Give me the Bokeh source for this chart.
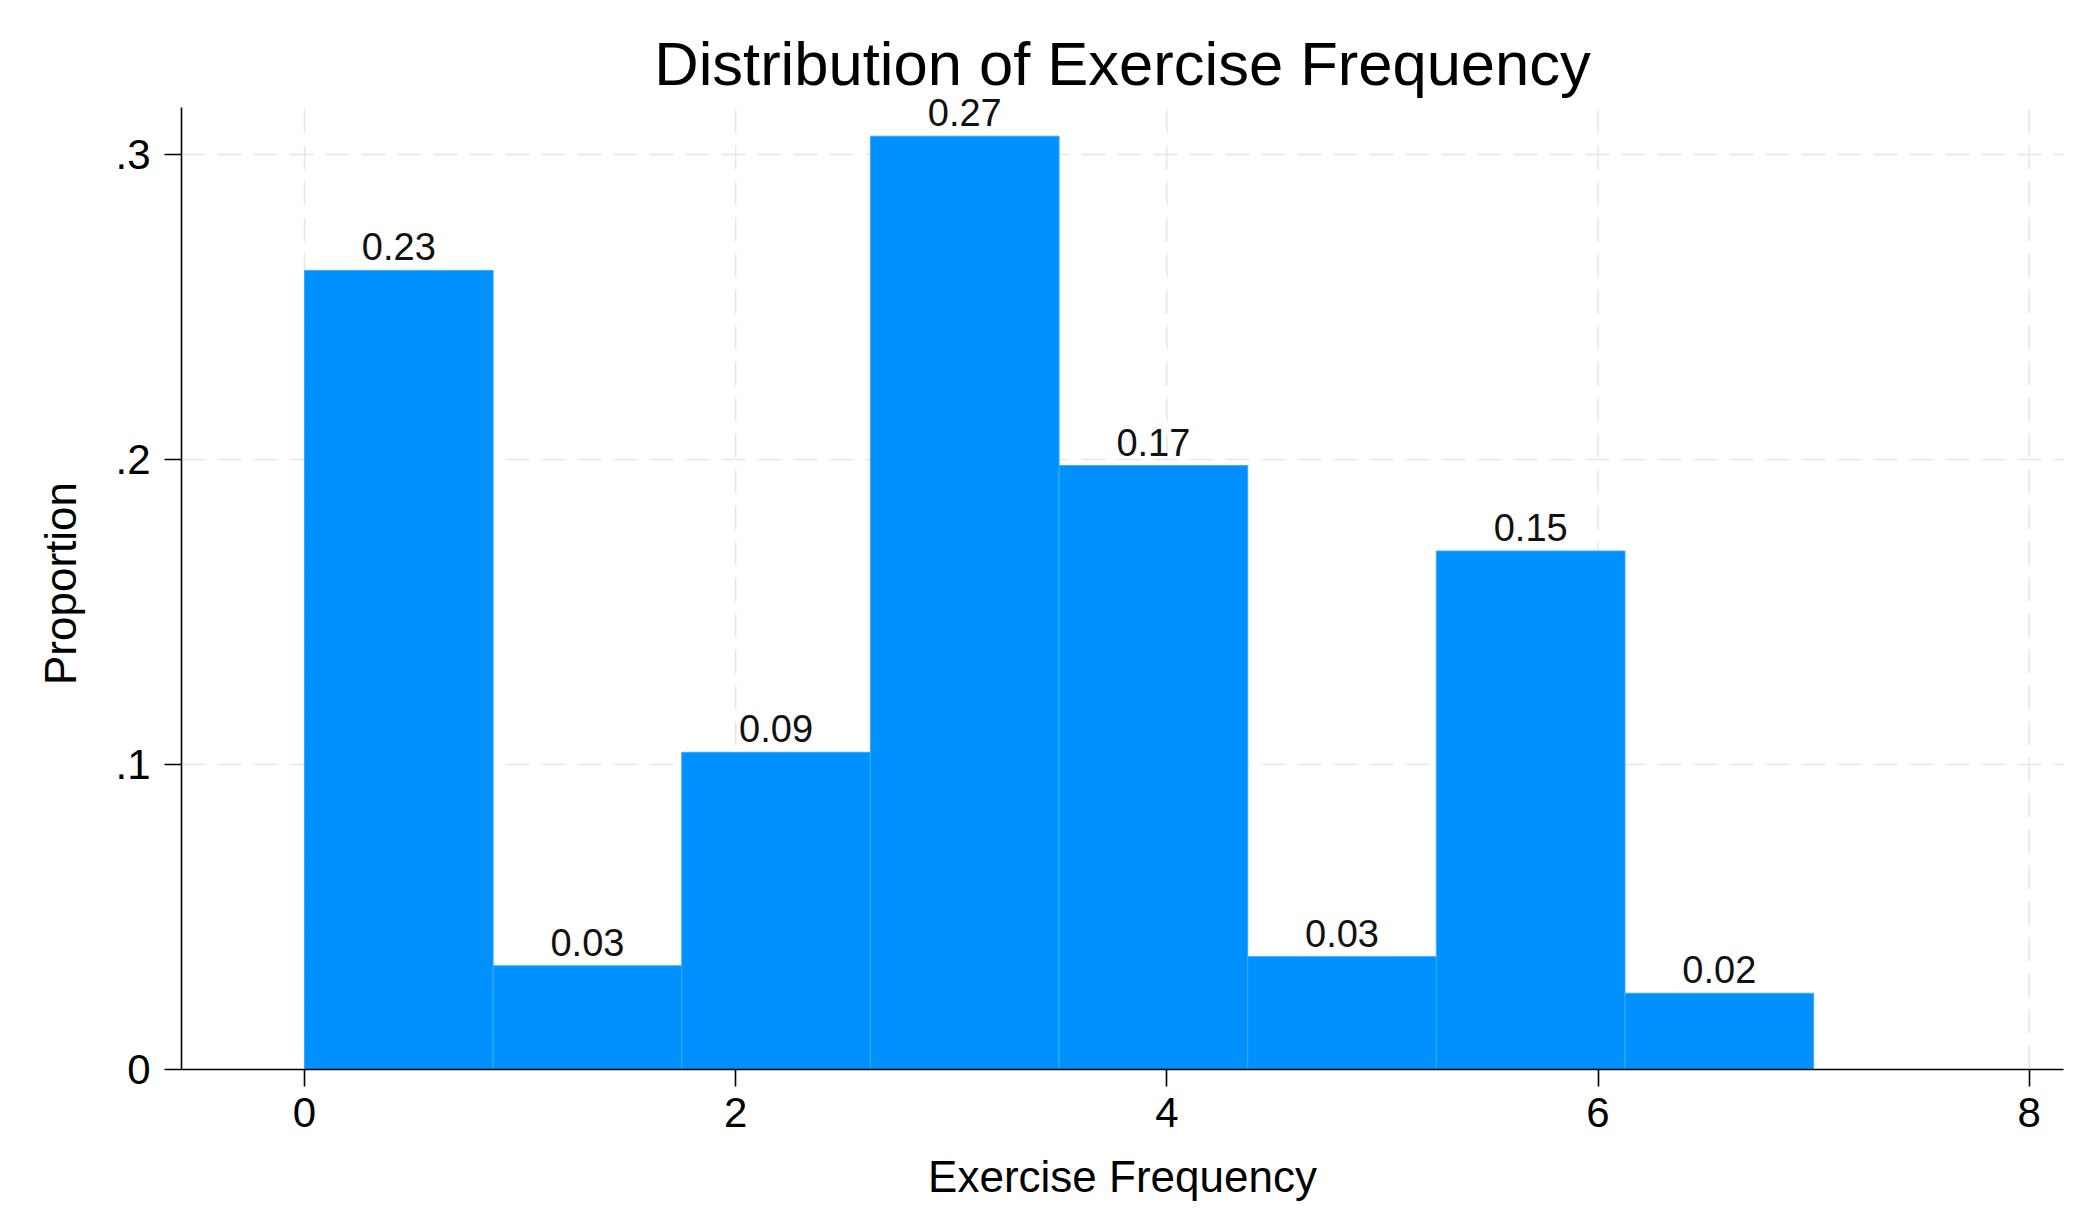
from bokeh.plotting import figure
from bokeh.models import ColumnDataSource, FixedTicker, Range1d, LabelSet
from bokeh.embed import file_html
from bokeh.resources import INLINE
from bokeh.core.properties import value

# ---- data ----
bin_edges = [0.0, 0.875, 1.75, 2.625, 3.5, 4.375, 5.25, 6.125, 7.0]
density = [0.262, 0.034, 0.104, 0.306, 0.198, 0.037, 0.170, 0.025]
bar_labels = ["0.23", "0.03", "0.09", "0.27", "0.17", "0.03", "0.15", "0.02"]
x_ticks = [0, 2, 4, 6, 8]
y_ticks = [0, 0.1, 0.2, 0.3]
y_tick_labels = ["0", ".1", ".2", ".3"]

FONT = "Liberation Sans"
Y_AXIS_TOP = 0.3154   # end of the drawn y axis
Y_VIEW_TOP = 0.3187   # small headroom so the top bar label is not clipped

left = bin_edges[:-1]
right = bin_edges[1:]
centers = [(a + b) / 2 for a, b in zip(left, right)]
src = ColumnDataSource(dict(left=left, right=right, top=density,
                            bottom=[0] * len(density), x=centers, lab=bar_labels))

p = figure(width=2073, height=1216, output_backend="svg", toolbar_location=None,
           x_range=Range1d(-0.5705, 8.159), y_range=Range1d(0, Y_VIEW_TOP),
           min_border_left=181, min_border_right=10, min_border_top=97, min_border_bottom=147,
           background_fill_color="white", border_fill_color="white")
p.outline_line_color = None

p.title.text = "Distribution of Exercise Frequency"
p.title.text_font = FONT
p.title.text_font_size = "61.5px"
p.title.text_font_style = "normal"
p.title.align = "center"
p.title.text_color = "black"
p.title.standoff = 0

# vertical dashed grid lines, limited to the axis extent
p.xgrid.visible = False
p.segment(x0=x_ticks, y0=[0] * len(x_ticks), x1=x_ticks, y1=[Y_AXIS_TOP] * len(x_ticks),
          line_color="#e6e6e6", line_width=1.5, line_dash="24 12", level="underlay")

p.quad(left="left", right="right", top="top", bottom="bottom", source=src,
       fill_color="#0091FF", line_color="#35A9FF", line_width=1)

labels = LabelSet(x="x", y="top", text="lab", source=src, text_align="center",
                  text_baseline="bottom", y_offset=10, text_font=value(FONT),
                  text_font_size=value("38px"), text_color="#111111")
p.add_layout(labels)

for ax in (p.xaxis[0], p.yaxis[0]):
    ax.axis_line_color = "black"
    ax.axis_line_width = 1.6
    ax.major_tick_line_color = "black"
    ax.major_tick_line_width = 1.6
    ax.major_tick_out = 17
    ax.major_tick_in = 0
    ax.minor_tick_line_color = None
    ax.major_label_text_font = FONT
    ax.major_label_text_font_size = "42px"
    ax.major_label_text_color = "black"
    ax.axis_label_text_font = FONT
    ax.axis_label_text_font_size = "44px"
    ax.axis_label_text_font_style = "normal"
    ax.axis_label_text_color = "black"

p.yaxis.bounds = (0, Y_AXIS_TOP)
p.xaxis.ticker = FixedTicker(ticks=x_ticks)
p.yaxis.ticker = FixedTicker(ticks=y_ticks)
p.yaxis.major_label_overrides = {t: s for t, s in zip(y_ticks, y_tick_labels)}
p.yaxis.major_label_orientation = "horizontal"
p.xaxis.axis_label = "Exercise Frequency"
p.yaxis.axis_label = "Proportion"
p.xaxis.major_label_standoff = 11
p.yaxis.major_label_standoff = 14
p.xaxis.axis_label_standoff = 22
p.yaxis.axis_label_standoff = 27

p.ygrid.ticker = FixedTicker(ticks=y_ticks[1:])
g = p.ygrid[0]
g.grid_line_color = "#e6e6e6"
g.grid_line_width = 1.5
g.grid_line_dash = "24 12"

open("out.html", "w").write(file_html(p, INLINE))
